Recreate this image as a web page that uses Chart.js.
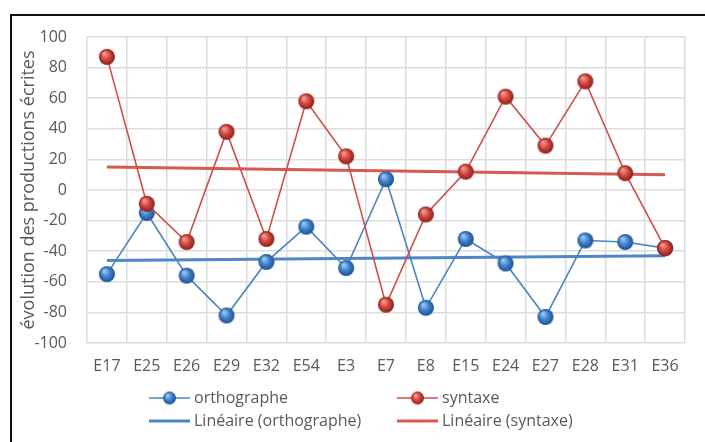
<!DOCTYPE html>
<html>
<head>
<meta charset="utf-8">
<script src="https://cdn.jsdelivr.net/npm/chart.js@4.4.1/dist/chart.umd.min.js"></script>
<style>
  html, body { margin: 0; padding: 0; background: #fff; overflow: hidden; }
  #wrap { position: relative; width: 705px; height: 442px; }
  #frame { position: absolute; left: 10px; top: 14px; width: 740px; height: 480px; border: 2px solid #111; box-sizing: border-box; }
  canvas { position: absolute; left: 0; top: 0; }
</style>
</head>
<body>
<div id="wrap">
  <div id="frame"></div>
  <canvas id="c" width="705" height="442"></canvas>
</div>
<script>
// ---- data ----
const categories = ["E17","E25","E26","E29","E32","E54","E3","E7","E8","E15","E24","E27","E28","E31","E36"];
const orthographe = [-55,-15,-56,-82,-47,-24,-51,7,-77,-32,-48,-83,-33,-34,-38];
const syntaxe = [87,-9,-34,38,-32,58,22,-75,-16,12,61,29,71,11,-38];
const orthoTrendEnds = [-46,-43];
const syntaxeTrendEnds = [15,10];
const yTicks = [100,80,60,40,20,0,-20,-40,-60,-80,-100];
const yTitle = "évolution des productions écrites";
const legendLabels = ["orthographe","syntaxe","Linéaire (orthographe)","Linéaire (syntaxe)"];

function trendArray(ends) {
  return categories.map((c, i) => i === 0 ? ends[0] : (i === categories.length - 1 ? ends[1] : null));
}

const BLUE = '#4a84c6', RED = '#cf4f4a';
const BLUE_T = '#4f86c6', RED_T = '#d45a52';
const FONT = '"Open Sans", Lato, sans-serif';
const FS = 16;
const GRAY = '#595959';

function makeBall(r, light, mid, dark) {
  const s = Math.ceil(2 * r + 2);
  const cv = document.createElement('canvas');
  cv.width = s; cv.height = s;
  const g = cv.getContext('2d');
  const cx = s / 2, cy = s / 2;
  const grad = g.createRadialGradient(cx - r * 0.35, cy - r * 0.45, r * 0.05, cx, cy, r);
  grad.addColorStop(0, light);
  grad.addColorStop(0.55, mid);
  grad.addColorStop(1, dark);
  g.beginPath();
  g.arc(cx, cy, r, 0, Math.PI * 2);
  g.fillStyle = grad;
  g.fill();
  return cv;
}
const blueBall = makeBall(8, '#a8cdf3', '#3d80cc', '#1f4f8e');
const redBall = makeBall(8, '#f3a49c', '#d0443d', '#8a1f1a');
const blueBallS = makeBall(6.5, '#a8cdf3', '#3d80cc', '#1f4f8e');
const redBallS = makeBall(6.5, '#f3a49c', '#d0443d', '#8a1f1a');

const legendPlugin = {
  id: 'customLegend',
  afterDraw(chart) {
    const ctx = chart.ctx;
    ctx.save();
    ctx.font = FS + 'px ' + FONT;
    ctx.fillStyle = GRAY;
    ctx.textBaseline = 'middle';
    ctx.textAlign = 'left';
    const items = [
      {x: 149, y: 398, color: BLUE, w: 1.5, ball: blueBallS, label: legendLabels[0]},
      {x: 397, y: 398, color: RED, w: 1.5, ball: redBallS, label: legendLabels[1]},
      {x: 149, y: 421, color: BLUE_T, w: 3, ball: null, label: legendLabels[2]},
      {x: 397, y: 421, color: RED_T, w: 3, ball: null, label: legendLabels[3]}
    ];
    items.forEach(it => {
      ctx.beginPath();
      ctx.strokeStyle = it.color;
      ctx.lineWidth = it.w;
      ctx.moveTo(it.x, it.y);
      ctx.lineTo(it.x + 41, it.y);
      ctx.stroke();
      if (it.ball) {
        ctx.drawImage(it.ball, it.x + 20.5 - it.ball.width / 2, it.y - it.ball.height / 2);
      }
      ctx.fillStyle = GRAY;
      ctx.fillText(it.label, it.x + 45, it.y);
    });
    ctx.restore();
  }
};

new Chart(document.getElementById('c'), {
  type: 'line',
  data: {
    labels: categories,
    datasets: [
      { label: legendLabels[1], data: syntaxe, borderColor: RED, borderWidth: 1.6,
        pointStyle: redBall, pointRadius: 8, order: 0, tension: 0 },
      { label: legendLabels[0], data: orthographe, borderColor: BLUE, borderWidth: 1.6,
        pointStyle: blueBall, pointRadius: 8, order: 1, tension: 0 },
      { label: legendLabels[2], data: trendArray(orthoTrendEnds), borderColor: BLUE_T, borderWidth: 3,
        pointRadius: 0, spanGaps: true, order: 2 },
      { label: legendLabels[3], data: trendArray(syntaxeTrendEnds), borderColor: RED_T, borderWidth: 3,
        pointRadius: 0, spanGaps: true, order: 3 }
    ]
  },
  options: {
    responsive: false,
    animation: false,
    devicePixelRatio: 1,
    layout: { padding: { left: 0, right: 20, top: 37, bottom: 0 } },
    plugins: { legend: { display: false }, tooltip: { enabled: false } },
    scales: {
      x: {
        offset: true,
        grid: { offset: true, color: '#dcdcdc', lineWidth: 1.5, drawTicks: false },
        border: { display: false },
        ticks: { color: GRAY, font: { size: FS, family: FONT }, padding: 14, maxRotation: 0, autoSkip: false },
        afterFit: (s) => { s.height = 99; }
      },
      y: {
        min: -100, max: 100,
        afterBuildTicks: (s) => { s.ticks = yTicks.map(v => ({ value: v })); },
        grid: { color: '#dcdcdc', lineWidth: 1.5, drawTicks: false },
        border: { display: false },
        ticks: { color: GRAY, font: { size: FS, family: FONT }, padding: 20 },
        title: { display: true, text: yTitle, color: GRAY, font: { size: 18, family: FONT }, padding: { top: 18, bottom: 0 } },
        afterFit: (s) => { s.width = 87; }
      }
    }
  },
  plugins: [legendPlugin]
});
</script>
</body>
</html>
